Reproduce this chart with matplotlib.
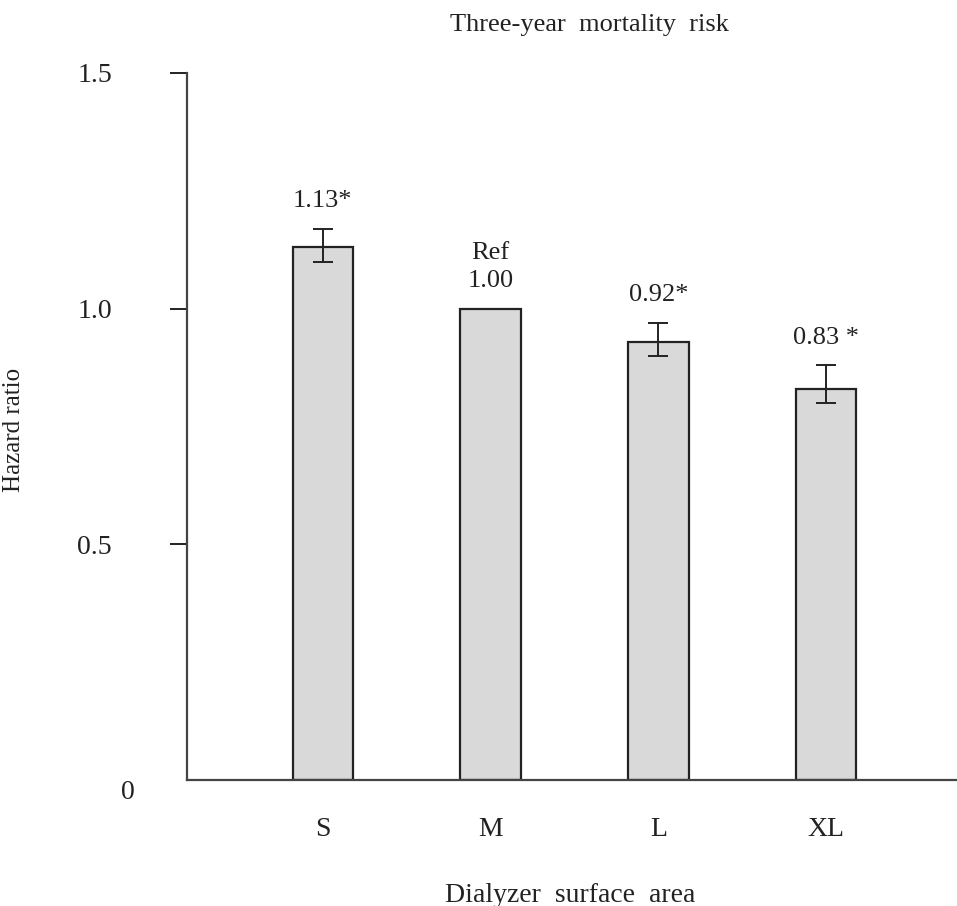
import numpy as np
import matplotlib.pyplot as plt

plt.rcParams['font.family'] = ['Liberation Serif', 'DejaVu Serif']

categories = ["S", "M", "L", "XL"]
hazard = [1.13, 1.00, 0.93, 0.83]
ci_low = [1.10, 1.00, 0.90, 0.80]
ci_high = [1.17, 1.00, 0.97, 0.88]
bar_labels = ["1.13*", "Ref\n1.00", "0.92*", "0.83 *"]
yticks = [0.5, 1.0, 1.5]


def main():
    fig = plt.figure(figsize=(9.57, 9.06), dpi=100)
    ax = fig.add_axes([187 / 957, 1 - 780 / 906, 1 - 187 / 957, (780 - 73) / 906])

    x = np.arange(len(categories))
    hz = np.array(hazard)
    err = np.array([hz - np.array(ci_low), np.array(ci_high) - hz])
    has_err = err.sum(axis=0) > 0

    ax.bar(x, hz, 0.36, color="#d9d9d9", edgecolor="#222222", linewidth=1.6, zorder=2)
    ax.errorbar(x[has_err], hz[has_err], yerr=err[:, has_err], fmt="none",
                ecolor="#222222", elinewidth=1.4, capsize=7, capthick=1.4, zorder=3)

    tops = np.maximum(hz, ci_high)
    for xi, top, lab in zip(x, tops, bar_labels):
        ax.annotate(lab, (xi, top), xytext=(0, 12), textcoords="offset points",
                    ha="center", va="bottom", fontsize=19, linespacing=1.35,
                    color="#222222")

    ax.set_xlim(-0.81, 3.78)
    ax.set_ylim(0, 1.5)
    ax.set_xticks(x)
    ax.set_xticklabels(categories, fontsize=20)
    ax.tick_params(axis="x", length=0, pad=27, colors="#222222")
    ax.set_yticks(yticks)
    ax.set_yticklabels([f"{t:.1f}" for t in yticks], fontsize=20)
    ax.tick_params(axis="y", length=12, width=1.4, pad=42, colors="#222222")
    ax.text(-0.077, 0, "0", transform=ax.get_yaxis_transform(), ha="center",
            va="top", fontsize=20, color="#222222")

    for side in ("top", "right"):
        ax.spines[side].set_visible(False)
    for side in ("left", "bottom"):
        ax.spines[side].set_linewidth(1.6)
        ax.spines[side].set_color("#444444")

    ax.set_ylabel("Hazard ratio", fontsize=18, color="#222222")
    ax.yaxis.set_label_coords(-0.21, 0.495)
    ax.set_xlabel("Dialyzer  surface  area", fontsize=20, color="#222222")
    ax.xaxis.set_label_coords(0.497, -0.145)
    ax.text(0.523, 1.068, "Three-year  mortality  risk", transform=ax.transAxes,
            ha="center", va="center", fontsize=19, color="#222222")

    fig.savefig("out.png", dpi=100)


if __name__ == '__main__':
    main()
